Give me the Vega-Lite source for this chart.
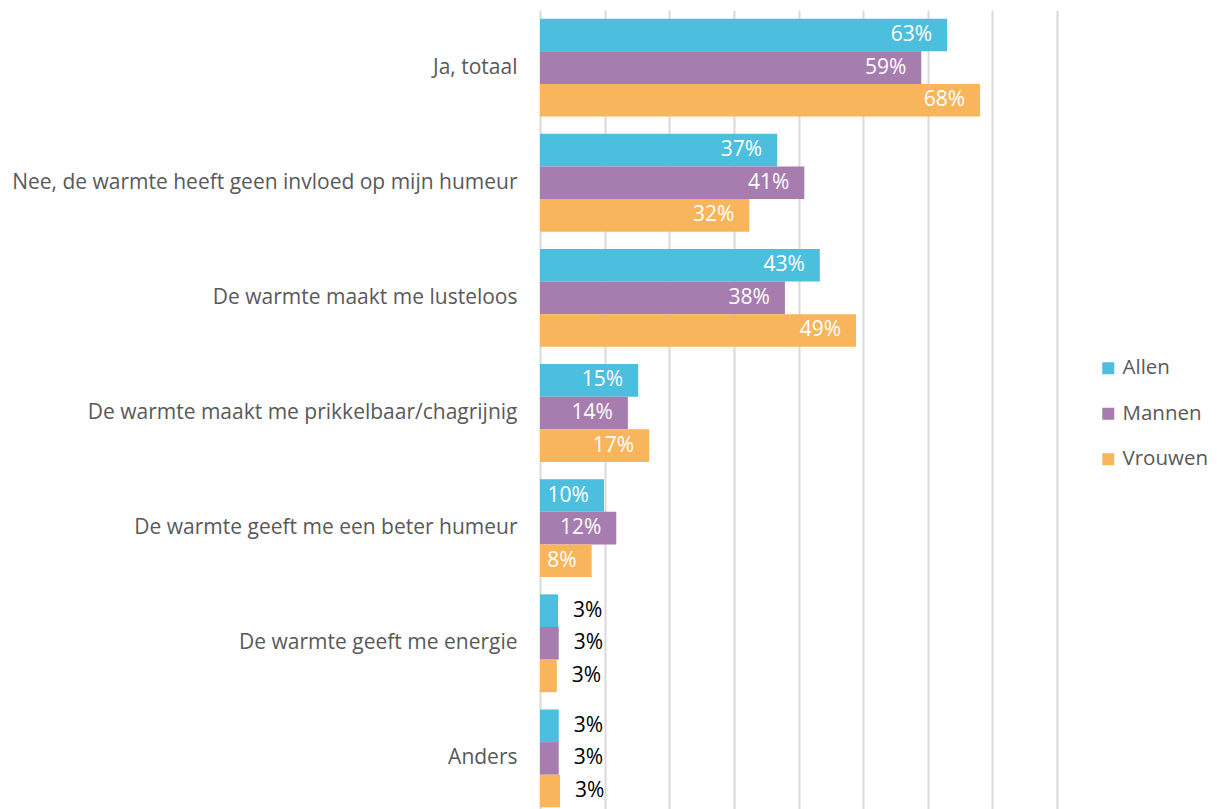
{
  "$schema": "https://vega.github.io/schema/vega-lite/v6.json",
  "width": 517,
  "height": 806,
  "autosize": {"type": "none"},
  "padding": {"left": 540, "top": 10, "right": 160, "bottom": 0},
  "config": {"view": {"stroke": null}, "font": "Open Sans"},
  "data": {
    "values": [
      {"cat": "Ja, totaal", "groep": "Allen", "v": 0.630},
      {"cat": "Ja, totaal", "groep": "Mannen", "v": 0.590},
      {"cat": "Ja, totaal", "groep": "Vrouwen", "v": 0.681},
      {"cat": "Nee, de warmte heeft geen invloed op mijn humeur", "groep": "Allen", "v": 0.367},
      {"cat": "Nee, de warmte heeft geen invloed op mijn humeur", "groep": "Mannen", "v": 0.409},
      {"cat": "Nee, de warmte heeft geen invloed op mijn humeur", "groep": "Vrouwen", "v": 0.324},
      {"cat": "De warmte maakt me lusteloos ", "groep": "Allen", "v": 0.433},
      {"cat": "De warmte maakt me lusteloos ", "groep": "Mannen", "v": 0.379},
      {"cat": "De warmte maakt me lusteloos ", "groep": "Vrouwen", "v": 0.489},
      {"cat": "De warmte maakt me prikkelbaar/chagrijnig", "groep": "Allen", "v": 0.152},
      {"cat": "De warmte maakt me prikkelbaar/chagrijnig", "groep": "Mannen", "v": 0.136},
      {"cat": "De warmte maakt me prikkelbaar/chagrijnig", "groep": "Vrouwen", "v": 0.169},
      {"cat": "De warmte geeft me een beter humeur", "groep": "Allen", "v": 0.099},
      {"cat": "De warmte geeft me een beter humeur", "groep": "Mannen", "v": 0.118},
      {"cat": "De warmte geeft me een beter humeur", "groep": "Vrouwen", "v": 0.080},
      {"cat": "De warmte geeft me energie", "groep": "Allen", "v": 0.028},
      {"cat": "De warmte geeft me energie", "groep": "Mannen", "v": 0.029},
      {"cat": "De warmte geeft me energie", "groep": "Vrouwen", "v": 0.026},
      {"cat": "Anders", "groep": "Allen", "v": 0.029},
      {"cat": "Anders", "groep": "Mannen", "v": 0.029},
      {"cat": "Anders", "groep": "Vrouwen", "v": 0.031}
    ]
  },
  "encoding": {
    "y": {
      "field": "cat",
      "type": "nominal",
      "sort": null,
      "title": null,
      "scale": {"paddingInner": 0.15, "paddingOuter": 0.075},
      "axis": {
        "ticks": false,
        "domain": false,
        "labelFontSize": 21,
        "labelColor": "#595959",
        "labelPadding": 23,
        "labelLimit": 600,
        "labelFont": "Open Sans"
      }
    },
    "yOffset": {"field": "groep", "type": "nominal", "sort": ["Allen", "Mannen", "Vrouwen"]},
    "x": {
      "field": "v",
      "type": "quantitative",
      "title": null,
      "scale": {"domain": [0, 0.8], "nice": false},
      "axis": {
        "grid": true,
        "labels": false,
        "ticks": false,
        "domain": false,
        "values": [0, 0.1, 0.2, 0.3, 0.4, 0.5, 0.6, 0.7, 0.8],
        "gridColor": "#d9d9d9",
        "gridWidth": 2
      }
    }
  },
  "layer": [
    {
      "mark": {"type": "bar"},
      "encoding": {
        "color": {
          "field": "groep",
          "type": "nominal",
          "scale": {"domain": ["Allen", "Mannen", "Vrouwen"], "range": ["#4bbfdd", "#a77cae", "#f8b55c"]},
          "legend": {
            "title": null,
            "orient": "none",
            "legendX": 558,
            "legendY": 348,
            "symbolType": "square",
            "symbolSize": 144,
            "symbolStrokeWidth": 0,
            "labelFontSize": 20.5,
            "labelColor": "#595959",
            "labelFont": "Open Sans",
            "labelOffset": 4,
            "rowPadding": 24.5
          }
        }
      }
    },
    {
      "transform": [{"filter": "datum.v >= 0.05"}],
      "mark": {"type": "text", "align": "right", "baseline": "middle", "dx": -15, "color": "white", "fontSize": 21, "font": "Open Sans"},
      "encoding": {"text": {"field": "v", "type": "quantitative", "format": ".0%"}}
    },
    {
      "transform": [{"filter": "datum.v < 0.05"}],
      "mark": {"type": "text", "align": "left", "baseline": "middle", "dx": 15, "color": "black", "fontSize": 21, "font": "Open Sans"},
      "encoding": {"text": {"field": "v", "type": "quantitative", "format": ".0%"}}
    }
  ]
}
